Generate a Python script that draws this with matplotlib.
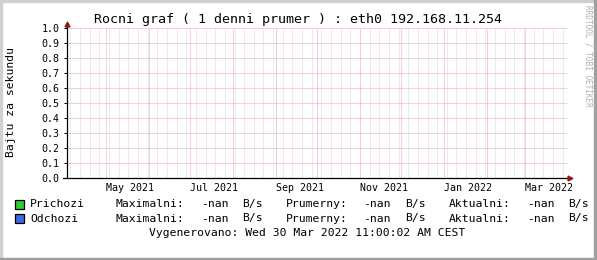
import datetime as dt
import numpy as np
import matplotlib
matplotlib.use("Agg")
import matplotlib.pyplot as plt
import matplotlib.dates as mdates
from matplotlib.patches import Rectangle

# ---------------- data ----------------
title = "Rocni graf ( 1 denni prumer ) : eth0 192.168.11.254"
ylabel = "Bajtu za sekundu"
x_start = dt.datetime(2021, 4, 2, 12)
x_end = dt.datetime(2022, 3, 31, 4)
y_ticks = [0.0, 0.1, 0.2, 0.3, 0.4, 0.5, 0.6, 0.7, 0.8, 0.9, 1.0]
label_dates = [dt.datetime(2021, 5, 1), dt.datetime(2021, 7, 1), dt.datetime(2021, 9, 1),
               dt.datetime(2021, 11, 1), dt.datetime(2022, 1, 1), dt.datetime(2022, 3, 1)]
label_texts = ["May 2021", "Jul 2021", "Sep 2021", "Nov 2021", "Jan 2022", "Mar 2022"]
# both series are empty (-nan) for the whole period
series_times = [x_start, x_end]
prichozi = [np.nan, np.nan]
odchozi = [np.nan, np.nan]
series_names = ["Prichozi", "Odchozi"]
series_colors = ["#32CD32", "#4169E1"]
stat_names = ["Maximalni:", "Prumerny:", "Aktualni:"]
stat_values = ["-nan", "-nan", "-nan"]
unit = "B/s"
footer = "Vygenerovano: Wed 30 Mar 2022 11:00:02 AM CEST"
watermark = "RRDTOOL / TOBI OETIKER"

# ---------------- layout ----------------
W, H = 597, 260
fig = plt.figure(figsize=(W / 100, H / 100), dpi=100)
fig.patch.set_facecolor("white")
MONO = "DejaVu Sans Mono"

def fx(px):
    return px / W

def fy(py):
    return 1 - py / H

L, R, T, B = 67, 567, 28, 178
ax = fig.add_axes([fx(L), fy(B), (R - L) / W, (B - T) / H])
ax.set_facecolor("white")
ax.set_xlim(x_start, x_end)
ax.set_ylim(0, 1)

ax.plot(series_times, prichozi, color=series_colors[0])
ax.plot(series_times, odchozi, color=series_colors[1])

# grid
ax.xaxis.set_major_locator(mdates.MonthLocator())
ax.xaxis.set_minor_locator(mdates.WeekdayLocator(byweekday=mdates.MO))
ax.set_yticks(y_ticks)
ax.set_yticklabels([f"{v:.1f}" for v in y_ticks], family=MONO, fontsize=7.2)
ax.set_xticklabels([])
grid_kw = dict(linestyle=(0, (1, 1)), linewidth=0.72)
ax.grid(which="minor", axis="x", color="#d8d8d8", **grid_kw)
ax.grid(which="major", axis="x", color="#f0a0a0", **grid_kw)
ax.grid(which="major", axis="y", color="#f0a0a0", **grid_kw)
ax.set_axisbelow(True)
ax.tick_params(axis="x", which="both", length=0)
ax.tick_params(axis="y", which="both", length=2.2, width=0.72, pad=3, colors="black")
for s in ax.spines.values():
    s.set_visible(False)

# axes with arrows
ax.plot([0, 0], [0, 1.02], transform=ax.transAxes, color="black", lw=0.9, clip_on=False)
ax.plot([-0.008, 1.002], [0, 0], transform=ax.transAxes, color="black", lw=0.9, clip_on=False)
ax.plot([0], [1.03], transform=ax.transAxes, marker="^", color="#8B1A1A", ms=3.5, clip_on=False)
ax.plot([1.006], [0], transform=ax.transAxes, marker=">", color="#8B1A1A", ms=3.5, clip_on=False)

# x labels (left aligned at month starts)
for d, t in zip(label_dates, label_texts):
    ax.text(d, -0.035, t, transform=ax.get_xaxis_transform(), ha="left", va="top",
            family=MONO, fontsize=7.2, color="black")

# title, y label, watermark
fig.text(0.5, fy(19.5), title, ha="center", va="center", family=MONO, fontsize=9.6)
fig.text(fx(11), fy(102), ylabel, rotation=90, ha="center", va="center", family=MONO, fontsize=8.2)
fig.text(fx(588), fy(5), watermark, rotation=270, ha="center", va="top", family=MONO,
         fontsize=5.6, color="#b0b0b0")

# legend
rows_y = [204, 218.5]
stat_x = [115.7, 285.7, 449]
val_x = [201, 363.3, 526.7]
unit_x = [241.7, 405, 568.3]
for name, col, ry in zip(series_names, series_colors, rows_y):
    fig.patches.append(Rectangle((fx(15), fy(ry + 4.5)), 9 / W, 9 / H, transform=fig.transFigure,
                                 facecolor=col, edgecolor="black", linewidth=0.9))
    fig.text(fx(30), fy(ry), name, ha="left", va="center", family=MONO, fontsize=8.2)
    for sn, sv, sx, vx, ux in zip(stat_names, stat_values, stat_x, val_x, unit_x):
        fig.text(fx(sx), fy(ry), sn, ha="left", va="center", family=MONO, fontsize=8.2)
        fig.text(fx(vx), fy(ry), sv, ha="left", va="center", family=MONO, fontsize=8.2)
        fig.text(fx(ux), fy(ry), unit, ha="left", va="center", family=MONO, fontsize=8.2)
fig.text(fx(149), fy(232.7), footer, ha="left", va="center", family=MONO, fontsize=8.2)

# 3D frame
light, dark = "#d0d0d0", "#a0a0a0"
fig.patches.append(Rectangle((0, 0), fx(2), 1, transform=fig.transFigure, color=light))
fig.patches.append(Rectangle((0, fy(2)), 1, 2 / H, transform=fig.transFigure, color=light))
fig.patches.append(Rectangle((fx(W - 3), 0), 3 / W, 1, transform=fig.transFigure, color=dark))
fig.patches.append(Rectangle((0, 0), 1, 2.5 / H, transform=fig.transFigure, color=dark))

fig.savefig("out.png", dpi=100, facecolor=fig.get_facecolor())
